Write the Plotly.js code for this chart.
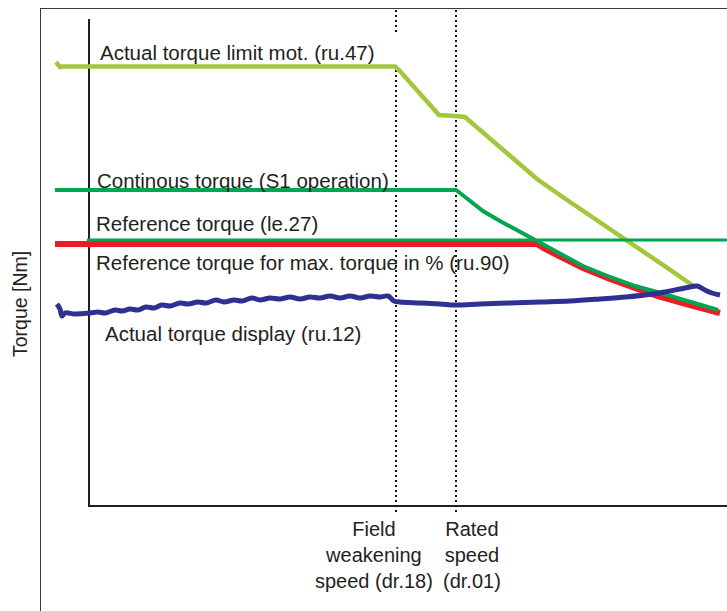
<!DOCTYPE html>
<html>
<head>
<meta charset="utf-8">
<script src="https://cdn.plot.ly/plotly-3.0.1.min.js"></script>
<style>html,body{margin:0;padding:0;background:#fff;}#chart{width:727px;height:611px;}</style>
</head>
<body>
<div id="chart"></div>
<script>
// Speed in % of rated speed, torque in % of continuous torque
var limitSpeed  = [-9.29, -8.20, -7.38, 83.33, 84.43, 90.16, 95.36, 99.73, 102.46, 106.56, 114.75, 122.13, 130.33, 139.34, 146.99, 155.74, 165.30];
var limitTorque = [140.63, 139.05, 139.21, 139.21, 138.10, 130.79, 123.81, 123.49, 123.17, 119.05, 111.11, 103.49, 96.83, 89.84, 83.81, 76.83, 69.21];

var contSpeed  = [-9.56, 100, 101.09, 103.83, 107.38, 112.02, 117.49, 122.13, 128.42, 134.70, 142.08, 148.91, 154.92, 163.93, 171.58];
var contTorque = [100, 100, 99.05, 96.51, 93.33, 90.16, 86.67, 83.81, 79.68, 75.87, 72.38, 69.52, 67.62, 64.44, 61.90];

var refSpeed  = [-0.82, 174.04];
var refTorque = [84.13, 84.13];

var maxRefSpeed  = [-9.56, 122.13, 124.32, 128.42, 134.70, 142.08, 148.91, 154.92, 163.93, 172.13];
var maxRefTorque = [82.86, 82.86, 81.27, 78.73, 75.24, 71.75, 68.89, 66.35, 63.49, 60.95];

var actSpeed  = [-9.02, -8.20, -7.65, -6.83, -4.10, 0, 2.19, 4.10, 6.83, 8.74, 10.93, 13.11, 15.30, 17.49, 19.67, 21.86, 24.59, 26.78, 29.51, 31.69, 34.43, 36.61, 39.34, 41.53, 44.26, 46.45, 49.18, 51.91, 54.64, 57.38, 60.11, 62.84, 65.57, 68.31, 71.04, 73.77, 76.50, 79.23, 81.42, 83.06, 84.70, 90.16, 95.63, 100, 106.56, 114.75, 122.95, 131.15, 139.34, 146.17, 151.64, 157.10, 161.20, 163.93, 165.85, 168.03, 169.95, 172.13];
var actTorque = [63.81, 62.22, 60.00, 60.95, 60.63, 60.95, 61.27, 60.95, 61.90, 61.59, 62.22, 61.90, 62.86, 62.54, 63.49, 63.17, 64.13, 63.81, 64.44, 64.13, 65.08, 64.44, 65.08, 64.76, 65.71, 65.08, 65.71, 65.40, 66.03, 65.40, 66.03, 65.71, 66.35, 65.71, 66.35, 65.71, 66.35, 66.03, 66.35, 64.76, 64.44, 64.13, 63.81, 63.49, 63.81, 64.13, 64.44, 64.76, 65.40, 66.03, 66.67, 67.62, 68.57, 69.21, 69.52, 68.25, 67.30, 66.67];

var fieldWeakSpeed = 83.61;
var ratedSpeed = 100;
var markerTop = [157.14, 149.84, null, 139.68, -2.22];
var ratedTop = [157.14, -2.22];

var curveLabels = [
  "Actual torque limit mot. (ru.47)",
  "Continous torque (S1 operation)",
  "Reference torque (le.27)",
  "Reference torque for max. torque in % (ru.90)",
  "Actual torque display (ru.12)"
];
var speedLabels = ["Field<br>weakening<br>speed (dr.18)", "Rated<br>speed<br>(dr.01)"];
var yTitle = "Torque [Nm]";

var FONT = "Liberation Sans, Arial, sans-serif";
var TXT = "#231f20";

var traces = [
  {x: [], y: [], xaxis: 'x', yaxis: 'y', hoverinfo: 'skip', showlegend: false},
  {x: [fieldWeakSpeed, fieldWeakSpeed, null, fieldWeakSpeed, fieldWeakSpeed], y: markerTop, xaxis: 'x2', yaxis: 'y2', mode: 'lines', line: {color: '#111', width: 2, dash: '2px,3px'}, connectgaps: false, hoverinfo: 'skip'},
  {x: [ratedSpeed, ratedSpeed], y: ratedTop, xaxis: 'x2', yaxis: 'y2', mode: 'lines', line: {color: '#111', width: 2, dash: '2px,3px'}, hoverinfo: 'skip'},
  {x: limitSpeed, y: limitTorque, xaxis: 'x2', yaxis: 'y2', mode: 'lines', line: {color: '#a2c73c', width: 4.5}, name: curveLabels[0]},
  {x: maxRefSpeed, y: maxRefTorque, xaxis: 'x2', yaxis: 'y2', mode: 'lines', line: {color: '#ed1c24', width: 6}, name: curveLabels[3]},
  {x: contSpeed, y: contTorque, xaxis: 'x2', yaxis: 'y2', mode: 'lines', line: {color: '#00a651', width: 4}, name: curveLabels[1]},
  {x: refSpeed, y: refTorque, xaxis: 'x2', yaxis: 'y2', mode: 'lines', line: {color: '#00a651', width: 3}, name: curveLabels[2]},
  {x: actSpeed, y: actTorque, xaxis: 'x2', yaxis: 'y2', mode: 'lines', line: {color: '#2e3192', width: 5, shape: 'spline', smoothing: 1}, name: curveLabels[4]}
];

function lab(text, x, y) {
  return {text: text, x: x, y: y, xref: 'x2', yref: 'y2', xanchor: 'left', yanchor: 'middle', showarrow: false, font: {family: FONT, size: 20.5, color: TXT}};
}

var layout = {
  width: 727, height: 611,
  margin: {l: 41, r: 0, t: 9, b: 0, pad: 0},
  paper_bgcolor: '#fff', plot_bgcolor: 'rgba(0,0,0,0)',
  showlegend: false,
  xaxis: {domain: [0.0714, 1], anchor: 'y', range: [0, 1], showline: true, linewidth: 2, linecolor: TXT, showgrid: false, zeroline: false, showticklabels: false, ticks: ''},
  yaxis: {domain: [0.1761, 0.9834], anchor: 'x', range: [0, 1], showline: true, linewidth: 2, linecolor: TXT, showgrid: false, zeroline: false, showticklabels: false, ticks: ''},
  xaxis2: {domain: [0, 1], anchor: 'y2', side: 'top', range: [-13.388, 174.044], showline: true, linewidth: 1.5, linecolor: '#3a3a3a', showgrid: false, zeroline: false, showticklabels: false, ticks: ''},
  yaxis2: {domain: [0, 1], anchor: 'x2', range: [-33.651, 157.460], showline: true, linewidth: 1.5, linecolor: '#3a3a3a', showgrid: false, zeroline: false, showticklabels: false, ticks: ''},
  annotations: [
    lab(curveLabels[0], 2.19, 143.8),
    lab(curveLabels[1], 1.37, 103.17),
    lab(curveLabels[2], 1.09, 89.52),
    lab(curveLabels[3], 1.09, 76.83),
    lab(curveLabels[4], 3.55, 54.60),
    {text: speedLabels[0], x: 77.6, y: -16.0, xref: 'x2', yref: 'y2', xanchor: 'center', yanchor: 'middle', align: 'center', showarrow: false, font: {family: FONT, size: 20, color: TXT}},
    {text: speedLabels[1], x: 104.3, y: -16.0, xref: 'x2', yref: 'y2', xanchor: 'center', yanchor: 'middle', align: 'center', showarrow: false, font: {family: FONT, size: 20, color: TXT}},
    {text: yTitle, x: -0.0306, y: 0.51, xref: 'paper', yref: 'paper', xanchor: 'center', yanchor: 'middle', textangle: -90, showarrow: false, font: {family: FONT, size: 19.5, color: TXT}}
  ]
};

Plotly.newPlot('chart', traces, layout, {staticPlot: true, displayModeBar: false});
</script>
</body>
</html>
